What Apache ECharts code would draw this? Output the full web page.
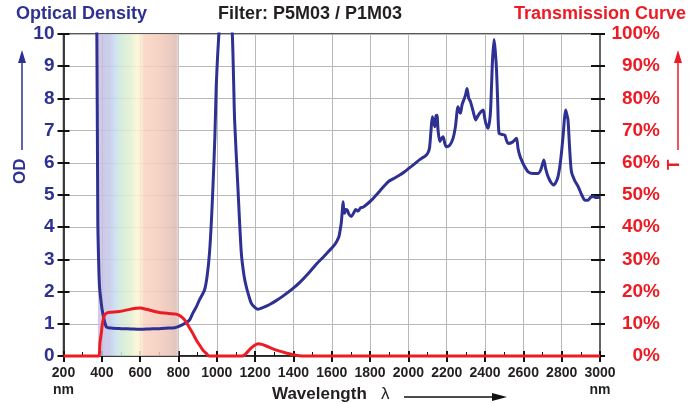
<!DOCTYPE html>
<html>
<head>
<meta charset="utf-8">
<script src="https://cdn.jsdelivr.net/npm/echarts@6/dist/echarts.min.js"></script>
<style>
html,body{margin:0;padding:0;background:#fff;}
#c{width:695px;height:404px;}
</style>
</head>
<body>
<div id="c"></div>
<script>
// Optical density curve (OD)
var odWavelength = [368,374,379,384,388,397,405,423,450,500,550,600,650,700,750,780,806,830,858,875,895,910,936,950,962,972,980,990,997,1005,1011,1030,1060,1081,1088,1093,1110,1128,1142,1154,1168,1180,1200,1215,1240,1276,1310,1345,1390,1432,1480,1519,1560,1606,1625,1638,1645,1650,1655,1659,1663,1667,1673,1681,1690,1702,1715,1725,1737,1750,1763,1785,1807,1850,1894,1920,1955,1980,2007,2035,2059,2080,2094,2105,2111,2118,2125,2131,2138,2144,2149,2155,2164,2172,2181,2190,2198,2216,2233,2245,2259,2266,2272,2280,2289,2298,2306,2315,2324,2340,2351,2362,2372,2390,2398,2404,2416,2424,2429,2434,2439,2447,2453,2460,2466,2473,2490,2503,2512,2521,2545,2564,2572,2580,2590,2605,2625,2651,2677,2692,2707,2717,2729,2745,2759,2770,2781,2795,2807,2815,2821,2827,2833,2842,2851,2868,2886,2905,2921,2938,2950,2964,2980,3000];
var odValues = [11,10,4.2,2.8,2.15,1.64,1.33,0.91,0.87,0.85,0.84,0.83,0.84,0.85,0.87,0.88,0.93,1.0,1.12,1.33,1.55,1.75,2.05,2.5,3.2,4.2,5.26,6.8,8.36,9.4,10,12,12,10,8.5,7.33,5.26,3.2,2.5,2.15,1.85,1.64,1.5,1.45,1.5,1.6,1.72,1.86,2.06,2.28,2.58,2.85,3.1,3.39,3.55,3.72,3.95,4.15,4.5,4.79,4.5,4.43,4.55,4.53,4.4,4.33,4.45,4.55,4.5,4.6,4.62,4.72,4.84,5.12,5.41,5.5,5.62,5.72,5.85,5.98,6.1,6.18,6.24,6.35,6.5,7.0,7.43,7.3,7.12,7.45,7.48,7.0,6.66,6.75,6.81,6.6,6.5,6.55,6.76,7.1,7.74,7.6,7.54,7.8,7.95,8.1,8.31,8.0,7.9,7.55,7.33,7.45,7.54,7.64,7.4,7.23,7.07,7.3,7.64,8.4,9.19,9.83,9.5,8.88,7.9,6.92,6.88,6.86,6.7,6.6,6.65,6.76,6.45,6.25,6.09,5.9,5.72,5.67,5.67,5.8,6.09,5.8,5.57,5.38,5.31,5.4,5.57,6.1,6.81,7.4,7.64,7.5,7.33,6.4,5.72,5.45,5.26,5.0,4.84,4.84,4.92,4.95,4.92,4.92];
// Transmission curve (%)
var tWavelength = [200,384,390,397,403,414,431,450,492,540,580,600,632,670,701,750,788,810,832,855,875,893,910,928,945,960,1130,1145,1165,1180,1200,1215,1235,1258,1290,1328,1365,1397,1430,1460,3000];
var tValues = [0,0,4,7,10,12.7,13.5,13.6,13.8,14.4,14.8,14.9,14.5,13.9,13.5,13.2,13.0,12.4,11.2,9.0,7.0,5.0,3.4,1.8,0.8,0,0,0.3,1.6,2.5,3.4,3.8,3.6,3.1,2.3,1.5,0.9,0.4,0.1,0,0];
// Visible band (nm)
var visibleBand = [380, 800];
var odTicks = [0,10,1];
var tTicks = [0,100,10];
var xRange = [200,3000,200];

var BLUE = '#2e3192', RED = '#ed1c24';
var FONT = '"Liberation Sans", Arial, sans-serif';

function zip(a,b){var r=[];for(var i=0;i<a.length;i++)r.push([a[i],b[i]]);return r;}

var chart = echarts.init(document.getElementById('c'), null, {renderer:'canvas'});
var gridTop = 34, gridLeft = 63.5, gridRight = 95, gridBottom = 48;

var option = {
  animation:false,
  backgroundColor:'#fff',
  grid:{left:gridLeft, right:gridRight, top:gridTop, bottom:gridBottom, show:true, borderColor:'#222', borderWidth:1.5, backgroundColor:'transparent'},
  xAxis:[{
    type:'value', min:xRange[0], max:xRange[1], interval:xRange[2],
    axisLine:{show:true, onZero:false, lineStyle:{color:'#111', width:1.5}},
    axisTick:{show:true, inside:false, length:6, lineStyle:{color:'#111', width:2}},
    splitLine:{show:true, lineStyle:{color:'#b8b8b8', width:1}},
    axisLabel:{margin:9, color:'#231f20', fontFamily:FONT, fontWeight:'bold', fontSize:14, lineHeight:17,
      formatter:function(v){return (v===xRange[0]||v===xRange[1])? v+'\nnm' : String(v);}}
  },{
    type:'value', min:xRange[0], max:xRange[1], interval:xRange[2], position:'bottom',
    axisLine:{show:false, onZero:false},
    axisTick:{show:true, inside:true, length:5, lineStyle:{color:'#111', width:2}},
    minorTick:{show:true, splitNumber:2, length:4, lineStyle:{color:'#111', width:1}},
    splitLine:{show:false}, axisLabel:{show:false}
  }],
  yAxis:[{
    type:'value', min:odTicks[0], max:odTicks[1], interval:odTicks[2], position:'left',
    axisLine:{show:true, onZero:false, lineStyle:{color:'#111', width:1.5}},
    axisTick:{show:true, inside:false, length:6, lineStyle:{color:'#111', width:2}},
    splitLine:{show:true, lineStyle:{color:'#b8b8b8', width:1}},
    axisLabel:{margin:9, color:BLUE, fontFamily:FONT, fontWeight:'bold', fontSize:19}
  },{
    type:'value', min:tTicks[0], max:tTicks[1], interval:tTicks[2], position:'right',
    axisLine:{show:true, onZero:false, lineStyle:{color:'#666', width:2}},
    axisTick:{show:true, inside:false, length:5, lineStyle:{color:'#111', width:2}},
    splitLine:{show:false},
    axisLabel:{margin:60, align:'right', color:RED, fontFamily:FONT, fontWeight:'bold', fontSize:19, formatter:'{value}%'}
  },{
    type:'value', min:odTicks[0], max:odTicks[1], interval:odTicks[2], position:'left',
    axisLine:{show:false}, splitLine:{show:false}, axisLabel:{show:false},
    axisTick:{show:true, inside:true, length:6, lineStyle:{color:'#111', width:2}}
  },{
    type:'value', min:tTicks[0], max:tTicks[1], interval:tTicks[2], position:'right',
    axisLine:{show:false}, splitLine:{show:false}, axisLabel:{show:false},
    axisTick:{show:true, inside:true, length:9, lineStyle:{color:'#111', width:2}}
  }],
  series:[{
    name:'OD', type:'line', xAxisIndex:0, yAxisIndex:0, data:zip(odWavelength, odValues),
    showSymbol:false, smooth:0.25, clip:true, z:3,
    lineStyle:{color:BLUE, width:3}, itemStyle:{color:BLUE},
    markArea:{silent:true, z:1,
      itemStyle:{opacity:0.85, color:new echarts.graphic.LinearGradient(0,0,1,0,[
        {offset:0.00,color:'#d2bde2'},{offset:0.05,color:'#c4c1e2'},{offset:0.15,color:'#c3c9e8'},
        {offset:0.22,color:'#c6e0ee'},{offset:0.30,color:'#d3ead6'},{offset:0.40,color:'#e0efd2'},
        {offset:0.48,color:'#fbf6d0'},{offset:0.53,color:'#fbeed4'},{offset:0.57,color:'#fbd3c1'},
        {offset:0.75,color:'#f3cbbb'},{offset:0.90,color:'#e8c1b5'},{offset:0.97,color:'#dcbcb3'},
        {offset:1.00,color:'#e6d8d4'}])},
      data:[[{xAxis:visibleBand[0]},{xAxis:visibleBand[1]}]]}
  },{
    name:'T', type:'line', xAxisIndex:0, yAxisIndex:1, data:zip(tWavelength, tValues),
    showSymbol:false, smooth:0.25, clip:false, z:4,
    lineStyle:{color:RED, width:3}, itemStyle:{color:RED}
  }],
  graphic:[
    {type:'text', left:16, top:5, style:{text:'Optical Density', fill:BLUE, font:'bold 18px '+FONT}},
    {type:'text', left:218, top:5, style:{text:'Filter: P5M03 / P1M03', fill:'#231f20', font:'bold 18px '+FONT}},
    {type:'text', right:9, top:5, style:{text:'Transmission Curve', fill:RED, font:'bold 18px '+FONT}},
    {type:'text', x:12, y:184, rotation:Math.PI/2, style:{text:'OD', fill:BLUE, font:'bold 17px '+FONT}},
    {type:'line', shape:{x1:22, y1:150, x2:22, y2:60}, style:{stroke:BLUE, lineWidth:1.5}},
    {type:'polygon', shape:{points:[[22,50],[18,63],[26,63]]}, style:{fill:BLUE}},
    {type:'text', x:666, y:170, rotation:Math.PI/2, style:{text:'T', fill:RED, font:'bold 17px '+FONT}},
    {type:'line', shape:{x1:678, y1:150, x2:678, y2:60}, style:{stroke:RED, lineWidth:1.5}},
    {type:'polygon', shape:{points:[[678,50],[674,63],[682,63]]}, style:{fill:RED}},
    {type:'text', left:272, top:386, style:{text:'Wavelength', fill:'#231f20', font:'bold 17px '+FONT}},
    {type:'text', left:381, top:386, style:{text:'λ', fill:'#231f20', font:'17px '+FONT}},
    {type:'line', shape:{x1:404, y1:397, x2:494, y2:397}, style:{stroke:'#111', lineWidth:1.5}},
    {type:'polygon', shape:{points:[[507,397],[492,393],[492,401]]}, style:{fill:'#111'}}
  ]
};
chart.setOption(option);
</script>
</body>
</html>
